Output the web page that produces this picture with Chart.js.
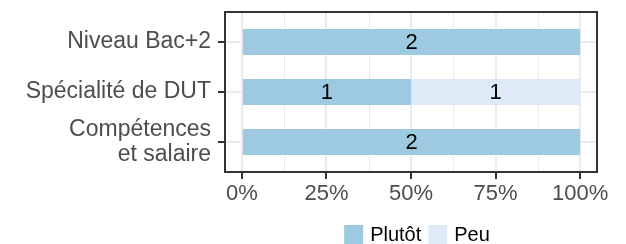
<!DOCTYPE html>
<html>
<head>
<meta charset="utf-8">
<script src="https://cdn.jsdelivr.net/npm/chart.js@4.4.0/dist/chart.umd.min.js"></script>
<style>
  html, body { margin: 0; padding: 0; background: #fff; }
  #wrap { width: 626px; height: 244px; }
</style>
</head>
<body>
<div id="wrap"><canvas id="chart" width="626" height="244"></canvas></div>
<script>
// ============= DATA =============
const categories = ['Niveau Bac+2', 'Spécialité de DUT', ['Compétences', 'et salaire']];
const seriesNames = ['Plutôt', 'Peu'];
const plutotCounts = [2, 1, 2];
const peuCounts = [0, 1, 0];
const xTickValues = [0, 25, 50, 75, 100];
const xMinorValues = [12.5, 37.5, 62.5, 87.5];
const seriesColors = ['#9ecae1', '#deebf7'];

const FONT = "'Liberation Sans', Arial, Helvetica, sans-serif";

// counts -> percent of each category's total
const totals = plutotCounts.map(function(v, i) { return v + peuCounts[i]; });
function toPoints(counts) {
  return counts.map(function(c, i) { return { x: c / totals[i] * 100, y: i + 1, n: c }; });
}

// ============= PLUGINS =============
const minorGrid = {
  id: 'minorGrid',
  beforeDatasetsDraw: function(chart) {
    const ctx = chart.ctx, a = chart.chartArea, xs = chart.scales.x;
    ctx.save();
    ctx.strokeStyle = '#ebebeb';
    ctx.lineWidth = 1;
    xMinorValues.forEach(function(v) {
      const px = Math.round(xs.getPixelForValue(v)) + 0.5;
      ctx.beginPath();
      ctx.moveTo(px, a.top);
      ctx.lineTo(px, a.bottom);
      ctx.stroke();
    });
    ctx.restore();
  }
};

const panelFrame = {
  id: 'panelFrame',
  afterDatasetsDraw: function(chart) {
    const ctx = chart.ctx, a = chart.chartArea;
    ctx.save();
    ctx.strokeStyle = '#333333';
    ctx.lineWidth = 2;
    ctx.strokeRect(a.left, a.top, a.right - a.left, a.bottom - a.top);
    ctx.restore();
  }
};

const barLabels = {
  id: 'barLabels',
  afterDatasetsDraw: function(chart) {
    const ctx = chart.ctx;
    ctx.save();
    ctx.font = '22px ' + FONT;
    ctx.fillStyle = '#000000';
    ctx.textAlign = 'center';
    ctx.textBaseline = 'middle';
    chart.data.datasets.forEach(function(ds, di) {
      chart.getDatasetMeta(di).data.forEach(function(bar, i) {
        const n = ds.data[i].n;
        if (!n) return;
        ctx.fillText(String(n), (bar.x + bar.base) / 2, bar.y + 1);
      });
    });
    ctx.restore();
  }
};

const bottomLegend = {
  id: 'bottomLegend',
  afterDraw: function(chart) {
    const ctx = chart.ctx, a = chart.chartArea;
    const box = 19, gapText = 7, gapItem = 7;
    ctx.save();
    ctx.font = '20px ' + FONT;
    const items = chart.data.datasets.map(function(ds) {
      return { label: ds.label, color: ds.backgroundColor, w: ctx.measureText(ds.label).width };
    });
    let total = 0;
    items.forEach(function(it, i) { total += box + gapText + it.w + (i < items.length - 1 ? gapItem : 0); });
    let x = (a.left + a.right) / 2 - total / 2 + 6;
    const cy = 234.5;
    ctx.textBaseline = 'middle';
    ctx.textAlign = 'left';
    items.forEach(function(it) {
      ctx.fillStyle = it.color;
      ctx.fillRect(x, cy - box / 2, box, box);
      ctx.fillStyle = '#000000';
      ctx.fillText(it.label, x + box + gapText, cy + 1);
      x += box + gapText + it.w + gapItem;
    });
    ctx.restore();
  }
};

// ============= CHART =============
new Chart(document.getElementById('chart'), {
  type: 'bar',
  data: {
    datasets: [
      { label: seriesNames[0], data: toPoints(plutotCounts), backgroundColor: seriesColors[0] },
      { label: seriesNames[1], data: toPoints(peuCounts), backgroundColor: seriesColors[1] }
    ]
  },
  options: {
    indexAxis: 'y',
    responsive: false,
    animation: false,
    categoryPercentage: 1,
    barPercentage: 0.52,
    layout: { padding: { left: 0, right: 29, top: 12, bottom: 38 } },
    plugins: { legend: { display: false }, tooltip: { enabled: false } },
    scales: {
      x: {
        type: 'linear',
        stacked: true,
        min: -5,
        max: 105,
        offset: false,
        afterBuildTicks: function(s) { s.ticks = xTickValues.map(function(v) { return { value: v }; }); },
        afterFit: function(s) { s.height = 34; s.paddingLeft = 0; s.paddingRight = 0; },
        ticks: {
          callback: function(v) { return v + '%'; },
          font: { family: FONT, size: 22 },
          color: '#4d4d4d',
          padding: 2,
          maxRotation: 0,
          autoSkip: false
        },
        grid: { color: '#ebebeb', lineWidth: 2, tickColor: '#333333', tickLength: 7, tickWidth: 2, offset: false },
        border: { display: false }
      },
      y: {
        type: 'linear',
        stacked: true,
        reverse: true,
        min: 0.4,
        max: 3.6,
        offset: false,
        afterBuildTicks: function(s) { s.ticks = categories.map(function(_, i) { return { value: i + 1 }; }); },
        afterFit: function(s) { s.width = 225; s.paddingTop = 0; s.paddingBottom = 0; },
        ticks: {
          callback: function(v) { return categories[Math.round(v) - 1]; },
          font: { family: FONT, size: 23, lineHeight: 1.08 },
          color: '#4d4d4d',
          padding: 7,
          autoSkip: false
        },
        grid: { color: '#ebebeb', lineWidth: 2, tickColor: '#333333', tickLength: 7, tickWidth: 2, offset: false },
        border: { display: false }
      }
    }
  },
  plugins: [minorGrid, panelFrame, barLabels, bottomLegend]
});
</script>
</body>
</html>
